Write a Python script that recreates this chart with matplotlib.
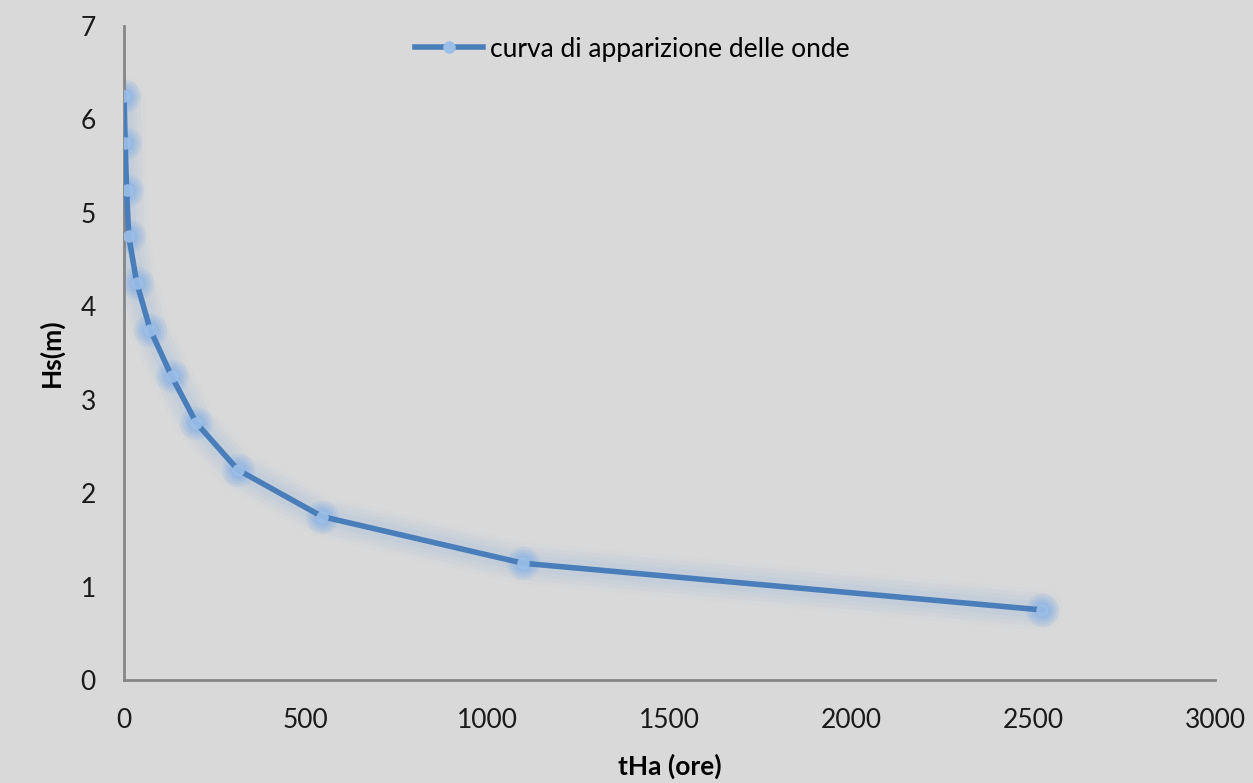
import numpy as np
import matplotlib.pyplot as plt

plt.rcParams['font.family'] = ['Lato', 'DejaVu Sans']

# tempo di apparizione (ore) e altezza d'onda significativa (m)
tHa = [1, 4, 8, 14, 36, 73, 132, 200, 314, 545, 1098, 2525]
Hs = [6.25, 5.75, 5.25, 4.75, 4.25, 3.75, 3.25, 2.75, 2.25, 1.75, 1.25, 0.75]

xticks = [0, 500, 1000, 1500, 2000, 2500, 3000]
yticks = [0, 1, 2, 3, 4, 5, 6, 7]

bg = '#d9d9d9'
blue = '#4a7ebb'
glow = '#8fb4e3'

fig = plt.figure(figsize=(12.53, 7.83), dpi=100, facecolor=bg)
ax = fig.add_axes([0.0987, 0.1315, 0.871, 0.8353])
ax.set_facecolor(bg)

# alone sfumato attorno alla curva e ai marker
for w, a in [(30, 0.05), (24, 0.06), (18, 0.08), (12, 0.10)]:
    ax.plot(tHa, Hs, color=glow, lw=w, alpha=a, solid_capstyle='round', zorder=1)
for s, a in [(24, 0.2), (20, 0.25), (16, 0.35), (12, 0.45)]:
    ax.plot(tHa, Hs, 'o', ms=s, color=glow, alpha=a, mec='none', zorder=2)

ax.plot(tHa, Hs, color=blue, lw=4, zorder=3)
ax.plot(tHa, Hs, 'o', ms=9, color='#9cbfe8', alpha=0.9, mec='none', zorder=4)
ax.plot([], [], color=blue, lw=4, marker='o', ms=8, mfc='#9cbfe8',
        mec='#9cbfe8', label='curva di apparizione delle onde')

ax.set_xlim(0, 3000)
ax.set_ylim(0, 7)
ax.set_xticks(xticks)
ax.set_yticks(yticks)
ax.tick_params(length=0, labelsize=19, colors='#1a1a1a', pad=20)
for side in ['top', 'right']:
    ax.spines[side].set_visible(False)
for side in ['left', 'bottom']:
    ax.spines[side].set_color('#868686')
    ax.spines[side].set_linewidth(2)

ax.set_xlabel('tHa (ore)', fontsize=19, fontweight='bold', labelpad=15)
ax.set_ylabel('Hs(m)', fontsize=19, fontweight='bold', labelpad=12)

ax.legend(loc='upper center', bbox_to_anchor=(0.466, 1.02), frameon=False,
          fontsize=19, handlelength=2.6, handletextpad=0.25)

fig.savefig('out.png', dpi=100, facecolor=bg)
